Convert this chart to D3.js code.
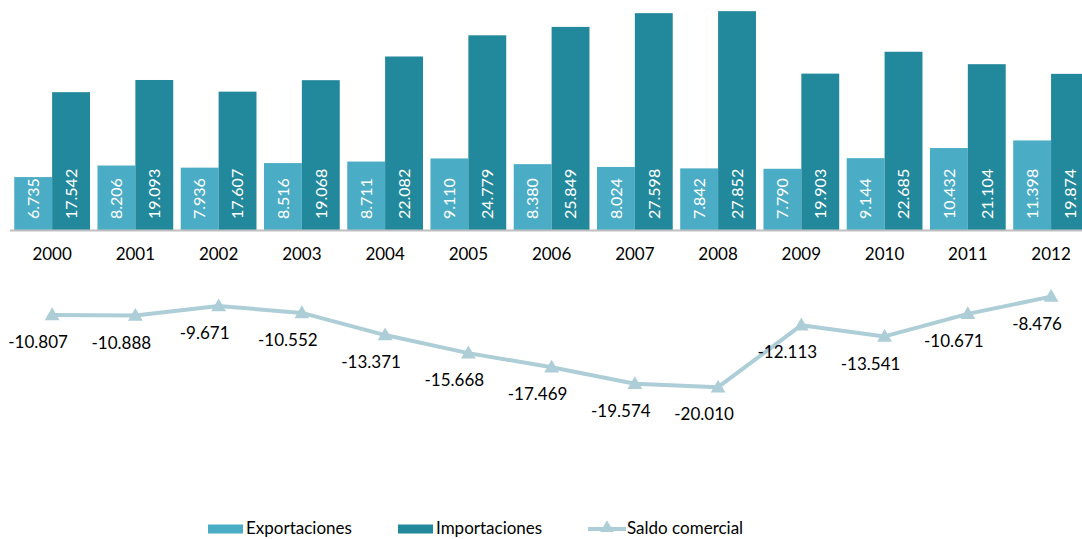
<!DOCTYPE html>
<html><head><meta charset="utf-8">
<script src="https://cdn.jsdelivr.net/npm/d3@7"></script>
<style>
html,body{margin:0;padding:0;background:#fff;}
svg{display:block;font-family:Lato,"Open Sans",sans-serif;}
</style></head>
<body><svg id="c" width="1082" height="539"></svg>
<script>
const years = ["2000","2001","2002","2003","2004","2005","2006","2007","2008","2009","2010","2011","2012"];
const exportaciones = [6.735,8.206,7.936,8.516,8.711,9.110,8.380,8.024,7.842,7.790,9.144,10.432,11.398];
const importaciones = [17.542,19.093,17.607,19.068,22.082,24.779,25.849,27.598,27.852,19.903,22.685,21.104,19.874];
const saldo = [-10.807,-10.888,-9.671,-10.552,-13.371,-15.668,-17.469,-19.574,-20.010,-12.113,-13.541,-10.671,-8.476];
const seriesNames = ["Exportaciones","Importaciones","Saldo comercial"];

const colExp = "#4bacc6", colImp = "#22889b", colLine = "#adcdd7";
const FS = 17;
const fmt = v => d3.format(".3f")(v).replace("\u2212", "-");
const svg = d3.select("#c");

const x = d3.scaleBand().domain(years).range([10.5, 1092.7]).paddingInner(0.09).paddingOuter(0.045);
const xs = d3.scaleBand().domain(["e","i"]).range([0, x.bandwidth()]);
const y = d3.scaleLinear().domain([0, 28]).range([230, 10]);

// bars
const g = svg.append("g");
years.forEach((yr, i) => {
  const vals = [["e", exportaciones[i], colExp], ["i", importaciones[i], colImp]];
  vals.forEach(([k, v, c]) => {
    const bx = x(yr) + xs(k);
    g.append("rect").attr("x", bx).attr("y", y(v)).attr("width", xs.bandwidth()).attr("height", y(0) - y(v)).attr("fill", c);
    const cx = bx + xs.bandwidth() / 2, cy = 219;
    g.append("text").attr("transform", `translate(${cx},${cy}) rotate(-90)`)
      .attr("text-anchor", "start").attr("dy", "0.36em").attr("fill", "#fff")
      .attr("font-size", 16).text(fmt(v));
  });
});

// axis
svg.append("line").attr("x1", 10).attr("x2", 1082).attr("y1", y(0) + 0.5).attr("y2", y(0) + 0.5)
  .attr("stroke", "#bfbfbf").attr("stroke-width", 2);
const xAxis = d3.axisBottom(x).tickSize(0).tickPadding(0);
const ax = svg.append("g").attr("transform", `translate(0,${y(0)})`).call(xAxis);
ax.select(".domain").remove();
ax.selectAll("text").attr("font-size", FS).attr("fill", "#000").attr("font-family", "Lato,'Open Sans',sans-serif")
  .attr("dy", "0").attr("y", 30);

// line
const cxp = (yr) => x(yr) + x.bandwidth() / 2;
const line = d3.line().x((d, i) => cxp(years[i])).y(d => y(d));
svg.append("path").datum(saldo).attr("d", line).attr("fill", "none").attr("stroke", colLine).attr("stroke-width", 4).attr("stroke-linejoin", "round");
const tri = d3.symbol().type(d3.symbolTriangle).size(95);
saldo.forEach((v, i) => {
  svg.append("path").attr("d", tri).attr("transform", `translate(${cxp(years[i])},${y(v) + 1})`).attr("fill", colLine);
  svg.append("text").attr("x", cxp(years[i]) - 14).attr("y", y(v) + 27).attr("dy", "0.36em")
    .attr("text-anchor", "middle").attr("font-size", FS).attr("fill", "#000").text(fmt(v));
});

// legend
const lg = svg.append("g").attr("transform", "translate(0,528)");
lg.append("rect").attr("x", 208).attr("y", -3.5).attr("width", 35).attr("height", 9).attr("fill", colExp);
lg.append("text").attr("x", 246).attr("dy", "0.36em").attr("font-size", FS).attr("fill", "#000").text(seriesNames[0]);
lg.append("rect").attr("x", 398).attr("y", -3.5).attr("width", 35).attr("height", 9).attr("fill", colImp);
lg.append("text").attr("x", 436).attr("dy", "0.36em").attr("font-size", FS).attr("fill", "#000").text(seriesNames[1]);
lg.append("line").attr("x1", 588).attr("x2", 626).attr("y1", 1).attr("y2", 1).attr("stroke", colLine).attr("stroke-width", 4);
lg.append("path").attr("d", d3.symbol().type(d3.symbolTriangle).size(80)).attr("transform", "translate(607,0)").attr("fill", colLine);
lg.append("text").attr("x", 627).attr("dy", "0.36em").attr("font-size", FS).attr("fill", "#000").text(seriesNames[2]);
</script></body></html>
